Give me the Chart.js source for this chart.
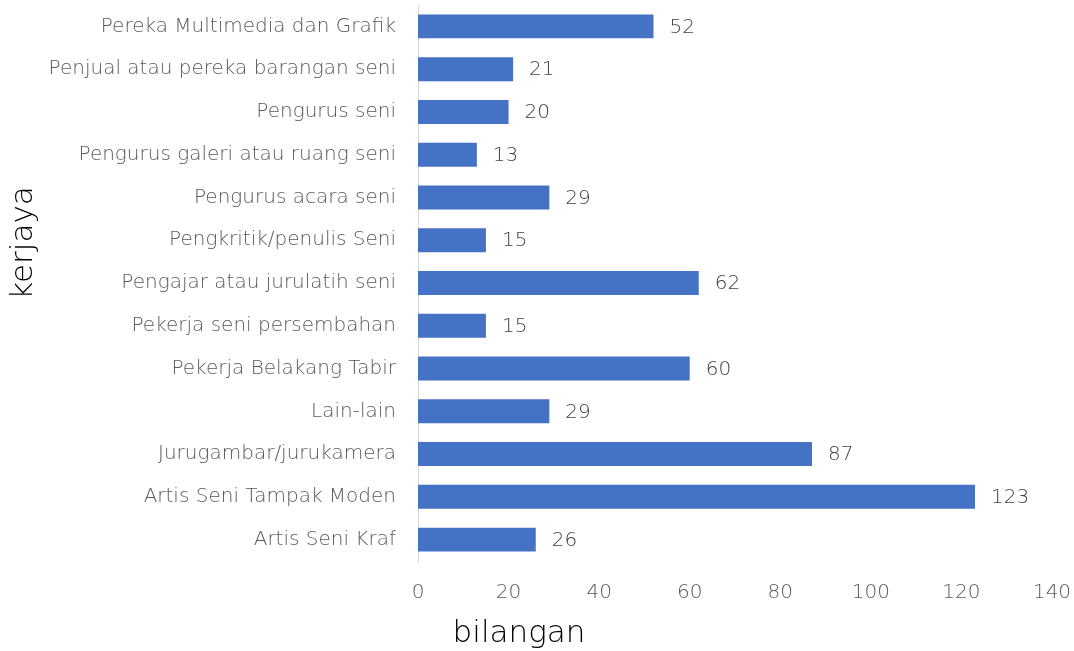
<!DOCTYPE html>
<html>
<head>
<meta charset="utf-8">
<script src="https://cdn.jsdelivr.net/npm/chart.js@4"></script>
<style>
  html, body { margin: 0; padding: 0; background: #fff; }
  #wrap { width: 1074px; height: 651px; }
</style>
</head>
<body>
<div id="wrap"><canvas id="grafik"></canvas></div>
<script>
var kategori = [
  "Pereka Multimedia dan Grafik",
  "Penjual atau pereka barangan seni",
  "Pengurus seni",
  "Pengurus galeri atau ruang seni",
  "Pengurus acara seni",
  "Pengkritik/penulis Seni",
  "Pengajar atau jurulatih seni",
  "Pekerja seni persembahan",
  "Pekerja Belakang Tabir",
  "Lain-lain",
  "Jurugambar/jurukamera",
  "Artis Seni Tampak Moden",
  "Artis Seni Kraf"
];
var bilangan = [52, 21, 20, 13, 29, 15, 62, 15, 60, 29, 87, 123, 26];
var tajukX = "bilangan";
var tajukY = "kerjaya";

var fon = "'DejaVu Sans', sans-serif";

var labelPlugin = {
  id: "labelNilai",
  afterDatasetsDraw: function (chart) {
    var ctx = chart.ctx;
    var meta = chart.getDatasetMeta(0);
    ctx.save();
    ctx.font = "200 20px " + fon;
    ctx.fillStyle = "#404040";
    ctx.textAlign = "left";
    ctx.textBaseline = "middle";
    meta.data.forEach(function (bar, i) {
      ctx.fillText(String(bilangan[i]), bar.x + 16, bar.y + 1);
    });
    // tajuk paksi
    ctx.fillStyle = "#000";
    ctx.font = "200 31px " + fon;
    ctx.textAlign = "center";
    ctx.fillText(tajukX, 519, 634);
    ctx.translate(24, 243);
    ctx.rotate(-Math.PI / 2);
    ctx.fillText(tajukY, 0, 0);
    ctx.restore();
  }
};

document.addEventListener("DOMContentLoaded", function () {
  var ctx = document.getElementById("grafik").getContext("2d");
  new Chart(ctx, {
    type: "bar",
    data: {
      labels: kategori,
      datasets: [{
        data: bilangan,
        backgroundColor: "#4472C4",
        barPercentage: 0.56,
        categoryPercentage: 1
      }]
    },
    options: {
      indexAxis: "y",
      responsive: true,
      maintainAspectRatio: false,
      animation: false,
      layout: { padding: { top: 5, right: 22, left: 0, bottom: 0 } },
      plugins: {
        legend: { display: false },
        tooltip: { enabled: false }
      },
      scales: {
        x: {
          min: 0,
          max: 140,
          ticks: {
            stepSize: 20,
            color: "#595959",
            font: { family: fon, size: 20, weight: 200 },
            padding: 20
          },
          grid: { display: false, drawTicks: false },
          border: { display: false },
          afterFit: function (s) { s.height = 90; s.paddingLeft = 0; s.paddingRight = 0; }
        },
        y: {
          ticks: {
            color: "#595959",
            font: { family: fon, size: 20, weight: 200 },
            padding: 22
          },
          grid: { display: false, drawTicks: false },
          border: { display: true, color: "#d9d9d9", width: 1 },
          afterFit: function (s) { s.width = 418; s.paddingTop = 0; s.paddingBottom = 0; }
        }
      }
    },
    plugins: [labelPlugin]
  });
});
</script>
</body>
</html>
